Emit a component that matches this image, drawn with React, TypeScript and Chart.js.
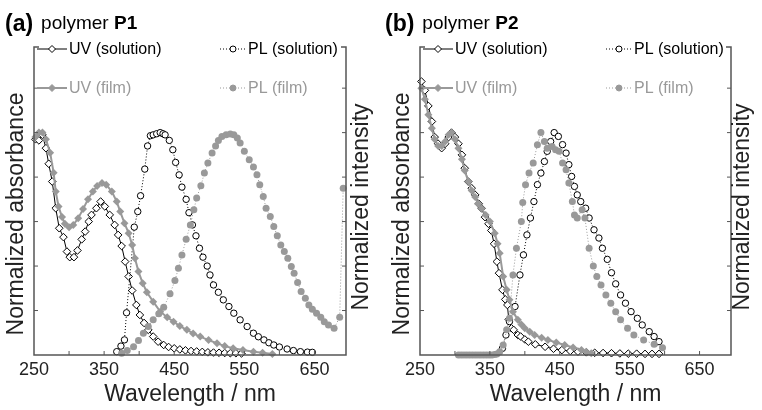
import React, { useEffect, useRef } from "react";
import { Chart, registerables } from "chart.js";

Chart.register(...registerables);

const FONT = '"Liberation Sans", Arial, Helvetica, sans-serif';
const BLACK = "#000000";
const GRAY = "#999999";
const AXIS = "#555555";

const X_MIN = 250;
const X_MAX = 695;
const Y_MIN = 0;
const Y_MAX = 1.385;
const xTickLabels = [250, 350, 450, 550, 650];
const xTickMarks = [300, 350, 400, 450, 500, 550, 600, 650];
const yTickMarks = [0.2, 0.4, 0.6, 0.8, 1.0, 1.2];
const legendLabels = ["UV (solution)", "PL (solution)", "UV (film)", "PL (film)"];
const xTitle = "Wavelength / nm";
const yLeftTitle = "Normalized absorbance";
const yRightTitle = "Normalized intensity";

// ---------- Panel (a): polymer P1 ----------
const p1UvSolNm = [252, 257, 262, 267, 271, 276, 281, 286, 292, 297, 301, 307, 312, 318, 323, 328, 332, 339, 345, 351, 358, 365, 370, 375, 380, 385, 390, 396, 401, 407, 413, 420, 427, 435, 442, 450, 458, 466, 474, 482, 490, 498, 506, 514, 522, 530, 538, 546];
const p1UvSolVal = [0.97, 0.965, 0.99, 0.93, 0.86, 0.78, 0.66, 0.57, 0.53, 0.465, 0.44, 0.44, 0.47, 0.52, 0.555, 0.6, 0.63, 0.66, 0.69, 0.668, 0.63, 0.585, 0.54, 0.49, 0.42, 0.353, 0.29, 0.225, 0.18, 0.144, 0.113, 0.083, 0.06, 0.045, 0.036, 0.03, 0.025, 0.021, 0.018, 0.016, 0.014, 0.012, 0.011, 0.01, 0.009, 0.008, 0.008, 0.007];

const p1UvFilmNm = [252, 257, 262, 267, 273, 278, 281, 285, 290, 294, 300, 306, 313, 320, 327, 334, 340, 347, 353, 361, 368, 373, 379, 385, 390, 394, 399, 405, 411, 420, 430, 440, 449, 458, 468, 477, 487, 499, 511, 522, 534, 548, 563, 576, 590];
const p1UvFilmVal = [0.98, 1.0, 1.0, 0.97, 0.91, 0.82, 0.735, 0.668, 0.62, 0.59, 0.575, 0.585, 0.615, 0.656, 0.7, 0.735, 0.76, 0.773, 0.766, 0.735, 0.69, 0.645, 0.593, 0.548, 0.495, 0.435, 0.375, 0.323, 0.282, 0.24, 0.195, 0.17, 0.15, 0.13, 0.113, 0.097, 0.083, 0.067, 0.053, 0.04, 0.03, 0.022, 0.015, 0.01, 0.005];

const p1PlSolNm = [368, 374, 379, 382, 393, 398, 402, 408, 412, 416, 420, 425, 430, 434, 437, 443, 448, 452, 457, 461, 467, 471, 476, 481, 486, 491, 497, 501, 506, 513, 520, 528, 535, 544, 554, 563, 570, 578, 585, 592, 600, 611, 620, 630, 640, 647];
const p1PlSolVal = [0.015, 0.04, 0.068, 0.19, 0.575, 0.645, 0.716, 0.836, 0.94, 0.986, 0.99, 0.995, 1.0, 0.995, 0.99, 0.965, 0.923, 0.866, 0.81, 0.755, 0.7, 0.64, 0.585, 0.536, 0.48, 0.44, 0.4, 0.36, 0.315, 0.282, 0.248, 0.218, 0.188, 0.158, 0.128, 0.098, 0.082, 0.068, 0.055, 0.045, 0.036, 0.027, 0.02, 0.015, 0.013, 0.012];

const p1PlFilmNm = [375, 383, 392, 399, 406, 413, 420, 428, 435, 444, 451, 456, 461, 467, 473, 478, 482, 488, 493, 498, 504, 509, 513, 518, 524, 530, 535, 540, 544, 550, 557, 563, 568, 572, 577, 581, 587, 592, 597, 602, 607, 612, 617, 621, 626, 631, 637, 642, 647, 653, 659, 664, 670, 678, 686, 691];
const p1PlFilmVal = [0.008, 0.02, 0.037, 0.065, 0.098, 0.128, 0.158, 0.185, 0.215, 0.275, 0.335, 0.39, 0.45, 0.52, 0.585, 0.653, 0.706, 0.761, 0.818, 0.863, 0.908, 0.94, 0.965, 0.983, 0.99, 0.994, 0.99, 0.976, 0.953, 0.916, 0.878, 0.845, 0.81, 0.766, 0.713, 0.66, 0.623, 0.578, 0.536, 0.495, 0.465, 0.435, 0.398, 0.368, 0.326, 0.285, 0.255, 0.225, 0.206, 0.188, 0.17, 0.15, 0.135, 0.12, 0.17, 0.75];

// ---------- Panel (b): polymer P2 ----------
const p2UvSolNm = [252, 257, 262, 267, 271, 276, 281, 286, 291, 295, 300, 305, 310, 314, 319, 324, 329, 334, 338, 343, 348, 352, 356, 360, 363, 368, 372, 375, 377, 381, 384, 390, 394, 400, 405, 415, 429, 441, 453, 465, 476, 488, 500, 512, 524, 536, 548, 560, 572, 582, 592];
const p2UvSolVal = [1.23, 1.19, 1.12, 1.05, 0.98, 0.95, 0.93, 0.95, 0.98, 1.0, 0.98, 0.95, 0.9, 0.84, 0.78, 0.75, 0.72, 0.68, 0.66, 0.62, 0.59, 0.56, 0.5, 0.42, 0.368, 0.293, 0.25, 0.225, 0.16, 0.12, 0.113, 0.09, 0.083, 0.07, 0.06, 0.048, 0.037, 0.028, 0.022, 0.018, 0.015, 0.012, 0.01, 0.009, 0.008, 0.007, 0.006, 0.006, 0.005, 0.005, 0.005];

const p2UvFilmNm = [252, 257, 262, 267, 271, 276, 281, 286, 291, 295, 300, 305, 310, 314, 319, 324, 329, 333, 338, 344, 350, 357, 361, 364, 369, 374, 378, 383, 390, 395, 400, 407, 414, 424, 433, 445, 457, 469, 481, 488, 495];
const p2UvFilmVal = [1.2, 1.15, 1.08, 1.02, 0.97, 0.94, 0.94, 0.96, 0.99, 1.0, 0.97, 0.93, 0.88, 0.83, 0.78, 0.74, 0.71, 0.68, 0.66, 0.63, 0.6, 0.548, 0.5, 0.458, 0.353, 0.293, 0.248, 0.195, 0.158, 0.137, 0.12, 0.105, 0.09, 0.078, 0.068, 0.056, 0.045, 0.034, 0.023, 0.015, 0.008];

const p2PlSolNm = [368, 373, 378, 386, 393, 398, 403, 408, 413, 418, 423, 428, 432, 437, 442, 448, 454, 459, 463, 467, 471, 475, 480, 487, 492, 499, 506, 511, 518, 524, 530, 537, 544, 552, 561, 568, 578, 585, 592];
const p2PlSolVal = [0.03, 0.09, 0.15, 0.218, 0.36, 0.45, 0.54, 0.616, 0.69, 0.766, 0.818, 0.87, 0.916, 0.96, 1.0, 0.983, 0.946, 0.908, 0.856, 0.803, 0.758, 0.72, 0.69, 0.66, 0.616, 0.563, 0.526, 0.48, 0.43, 0.37, 0.32, 0.27, 0.233, 0.195, 0.165, 0.135, 0.105, 0.083, 0.06];

const p2PlFilmNm = [305, 309, 313, 317, 321, 325, 329, 333, 337, 341, 345, 349, 353, 357, 360, 364, 369, 374, 378, 383, 388, 395, 397, 401, 406, 412, 418, 423, 428, 432, 439, 444, 449, 454, 459, 463, 468, 471, 475, 482, 486, 492, 498, 503, 509, 516, 523, 530, 537, 547, 556, 570, 585, 597];
const p2PlFilmVal = [0, 0, 0, 0, 0, 0, 0, 0, 0, 0, 0, 0, 0, 0.002, 0.005, 0.015, 0.045, 0.113, 0.165, 0.36, 0.48, 0.6, 0.686, 0.766, 0.818, 0.863, 0.946, 1.0, 0.96, 0.93, 0.938, 0.923, 0.916, 0.863, 0.833, 0.773, 0.69, 0.63, 0.616, 0.653, 0.616, 0.48, 0.4, 0.353, 0.315, 0.27, 0.233, 0.195, 0.158, 0.12, 0.09, 0.068, 0.048, 0.033];

type PanelCfg = {
  tag: string;
  name: string;
  left: number;
  right: number;
  titleX: number;
  uvSol: [number[], number[]];
  uvFilm: [number[], number[]];
  plSol: [number[], number[]];
  plFilm: [number[], number[]];
};

const pts = (nm: number[], v: number[]) => nm.map((x, i) => ({ x, y: v[i] }));

function drawMarker(ctx: CanvasRenderingContext2D, kind: string, x: number, y: number, r: number, fill: string, stroke: string) {
  ctx.beginPath();
  if (kind === "diamond") {
    ctx.moveTo(x, y - r);
    ctx.lineTo(x + r, y);
    ctx.lineTo(x, y + r);
    ctx.lineTo(x - r, y);
    ctx.closePath();
  } else {
    ctx.arc(x, y, r, 0, Math.PI * 2);
  }
  ctx.fillStyle = fill;
  ctx.fill();
  ctx.strokeStyle = stroke;
  ctx.lineWidth = 1;
  ctx.stroke();
}

function makeDeco(cfg: PanelCfg) {
  return {
    id: "panelDeco",
    afterDatasetsDraw(chart: any) {
      const { ctx, chartArea: a, scales } = chart;
      const xs = scales.x;
      const ys = scales.y;
      ctx.save();
      // frame (top edge hidden behind legend except corners)
      ctx.strokeStyle = AXIS;
      ctx.lineWidth = 1.5;
      ctx.beginPath();
      ctx.moveTo(a.left + 5, a.top);
      ctx.lineTo(a.left, a.top);
      ctx.lineTo(a.left, a.bottom);
      ctx.lineTo(a.right, a.bottom);
      ctx.lineTo(a.right, a.top);
      ctx.lineTo(a.right - 5, a.top);
      ctx.stroke();
      ctx.lineWidth = 1;
      ctx.beginPath();
      for (const v of xTickMarks) {
        const px = xs.getPixelForValue(v);
        ctx.moveTo(px, a.bottom);
        ctx.lineTo(px, a.bottom - 4);
      }
      for (const v of yTickMarks) {
        const py = ys.getPixelForValue(v);
        ctx.moveTo(a.left, py);
        ctx.lineTo(a.left + 4, py);
        ctx.moveTo(a.right, py);
        ctx.lineTo(a.right - 4, py);
      }
      ctx.stroke();

      // tick labels
      ctx.fillStyle = "#222";
      ctx.font = `18px ${FONT}`;
      ctx.textAlign = "center";
      ctx.textBaseline = "alphabetic";
      for (const v of xTickLabels) {
        ctx.fillText(String(v), xs.getPixelForValue(v), 375);
      }
      // axis titles
      ctx.font = `23px ${FONT}`;
      ctx.fillText(xTitle, (a.left + a.right) / 2, 401);
      ctx.save();
      ctx.translate(a.left - 17, 214);
      ctx.rotate(-Math.PI / 2);
      ctx.textBaseline = "middle";
      ctx.fillText(yLeftTitle, 0, 0);
      ctx.restore();
      ctx.save();
      ctx.translate(362, 207);
      ctx.rotate(-Math.PI / 2);
      ctx.textBaseline = "middle";
      ctx.fillText(yRightTitle, 0, 0);
      ctx.restore();

      // panel title
      ctx.textAlign = "left";
      ctx.textBaseline = "alphabetic";
      ctx.fillStyle = "#000";
      let tx = cfg.titleX;
      ctx.font = `bold 23px ${FONT}`;
      ctx.fillText(cfg.tag, tx, 31);
      tx += ctx.measureText(cfg.tag).width + 8;
      ctx.font = `19px ${FONT}`;
      const poly = "polymer ";
      ctx.fillText(poly, tx, 29);
      tx += ctx.measureText(poly).width;
      ctx.font = `bold 19px ${FONT}`;
      ctx.fillText(cfg.name, tx, 29);

      // legend
      const rows = [49, 88];
      const items = [
        { label: legendLabels[0], col: 0, row: 0, color: BLACK, dash: [], kind: "diamond", fill: "#fff", lw: 1 },
        { label: legendLabels[1], col: 1, row: 0, color: BLACK, dash: [1, 2], kind: "circle", fill: "#fff", lw: 1 },
        { label: legendLabels[2], col: 0, row: 1, color: GRAY, dash: [], kind: "diamond", fill: GRAY, lw: 2 },
        { label: legendLabels[3], col: 1, row: 1, color: GRAY, dash: [1, 2], kind: "circle", fill: GRAY, lw: 1 },
      ];
      ctx.font = `16px ${FONT}`;
      ctx.textBaseline = "middle";
      for (const it of items) {
        const y = rows[it.row];
        const x0 = a.left + (it.col === 0 ? 3 : 186);
        const x1 = x0 + (it.col === 0 ? 30 : 26);
        ctx.strokeStyle = it.color;
        ctx.lineWidth = it.lw;
        ctx.setLineDash(it.dash);
        ctx.beginPath();
        ctx.moveTo(x0, y);
        ctx.lineTo(x1, y);
        ctx.stroke();
        ctx.setLineDash([]);
        drawMarker(ctx, it.kind, (x0 + x1) / 2, y, it.kind === "diamond" ? 3.5 : 3, it.fill, it.color);
        ctx.fillStyle = it.color;
        ctx.fillText(it.label, x1 + 2, y + 1);
      }
      ctx.restore();
    },
  };
}

function Panel({ cfg }: { cfg: PanelCfg }) {
  const ref = useRef<HTMLCanvasElement>(null);
  useEffect(() => {
    if (!ref.current) return;
    const chart = new Chart(ref.current, {
      type: "line",
      data: {
        datasets: [
          {
            label: legendLabels[3],
            data: pts(cfg.plFilm[0], cfg.plFilm[1]),
            borderColor: GRAY,
            borderWidth: 1,
            borderDash: [1, 2],
            pointStyle: "circle",
            pointRadius: 3.5,
            pointBackgroundColor: GRAY,
            pointBorderColor: GRAY,
            pointBorderWidth: 0,
            yAxisID: "y2",
            order: 0,
            clip: false,
          },
          {
            label: legendLabels[2],
            data: pts(cfg.uvFilm[0], cfg.uvFilm[1]),
            borderColor: GRAY,
            borderWidth: 2,
            pointStyle: "rectRot",
            pointRadius: 4,
            pointBackgroundColor: GRAY,
            pointBorderColor: GRAY,
            pointBorderWidth: 0,
            yAxisID: "y",
            order: 1,
            clip: false,
          },
          {
            label: legendLabels[1],
            data: pts(cfg.plSol[0], cfg.plSol[1]),
            borderColor: BLACK,
            borderWidth: 1,
            borderDash: [1, 2],
            pointStyle: "circle",
            pointRadius: 3.2,
            pointBackgroundColor: "#fff",
            pointBorderColor: BLACK,
            pointBorderWidth: 1,
            yAxisID: "y2",
            order: 2,
            clip: false,
          },
          {
            label: legendLabels[0],
            data: pts(cfg.uvSol[0], cfg.uvSol[1]),
            borderColor: BLACK,
            borderWidth: 1,
            pointStyle: "rectRot",
            pointRadius: 3.8,
            pointBackgroundColor: "#fff",
            pointBorderColor: BLACK,
            pointBorderWidth: 1,
            yAxisID: "y",
            order: 3,
            clip: false,
          },
        ],
      },
      options: {
        animation: false,
        responsive: false,
        devicePixelRatio: 1,
        layout: { padding: { left: cfg.left, right: 381 - cfg.right, top: 47, bottom: 55 } },
        plugins: { legend: { display: false }, tooltip: { enabled: false }, title: { display: false } },
        elements: { line: { tension: 0, fill: false } },
        scales: {
          x: { type: "linear", min: X_MIN, max: X_MAX, display: false },
          y: { type: "linear", min: Y_MIN, max: Y_MAX, display: false },
          y2: { type: "linear", min: Y_MIN, max: Y_MAX, display: false, position: "right" },
        },
      } as any,
      plugins: [makeDeco(cfg) as any],
    });
    return () => chart.destroy();
  }, [cfg]);
  return <canvas ref={ref} width={381} height={410} style={{ display: "block", width: 381, height: 410 }} />;
}

const panelA: PanelCfg = {
  tag: "(a)",
  name: "P1",
  left: 34,
  right: 346,
  titleX: 5,
  uvSol: [p1UvSolNm, p1UvSolVal],
  uvFilm: [p1UvFilmNm, p1UvFilmVal],
  plSol: [p1PlSolNm, p1PlSolVal],
  plFilm: [p1PlFilmNm, p1PlFilmVal],
};

const panelB: PanelCfg = {
  tag: "(b)",
  name: "P2",
  left: 39,
  right: 350,
  titleX: 4,
  uvSol: [p2UvSolNm, p2UvSolVal],
  uvFilm: [p2UvFilmNm, p2UvFilmVal],
  plSol: [p2PlSolNm, p2PlSolVal],
  plFilm: [p2PlFilmNm, p2PlFilmVal],
};

export default function App() {
  return (
    <div style={{ position: "absolute", left: 0, top: 0, width: 762, height: 410, display: "flex", background: "#fff" }}>
      <Panel cfg={panelA} />
      <Panel cfg={panelB} />
    </div>
  );
}
